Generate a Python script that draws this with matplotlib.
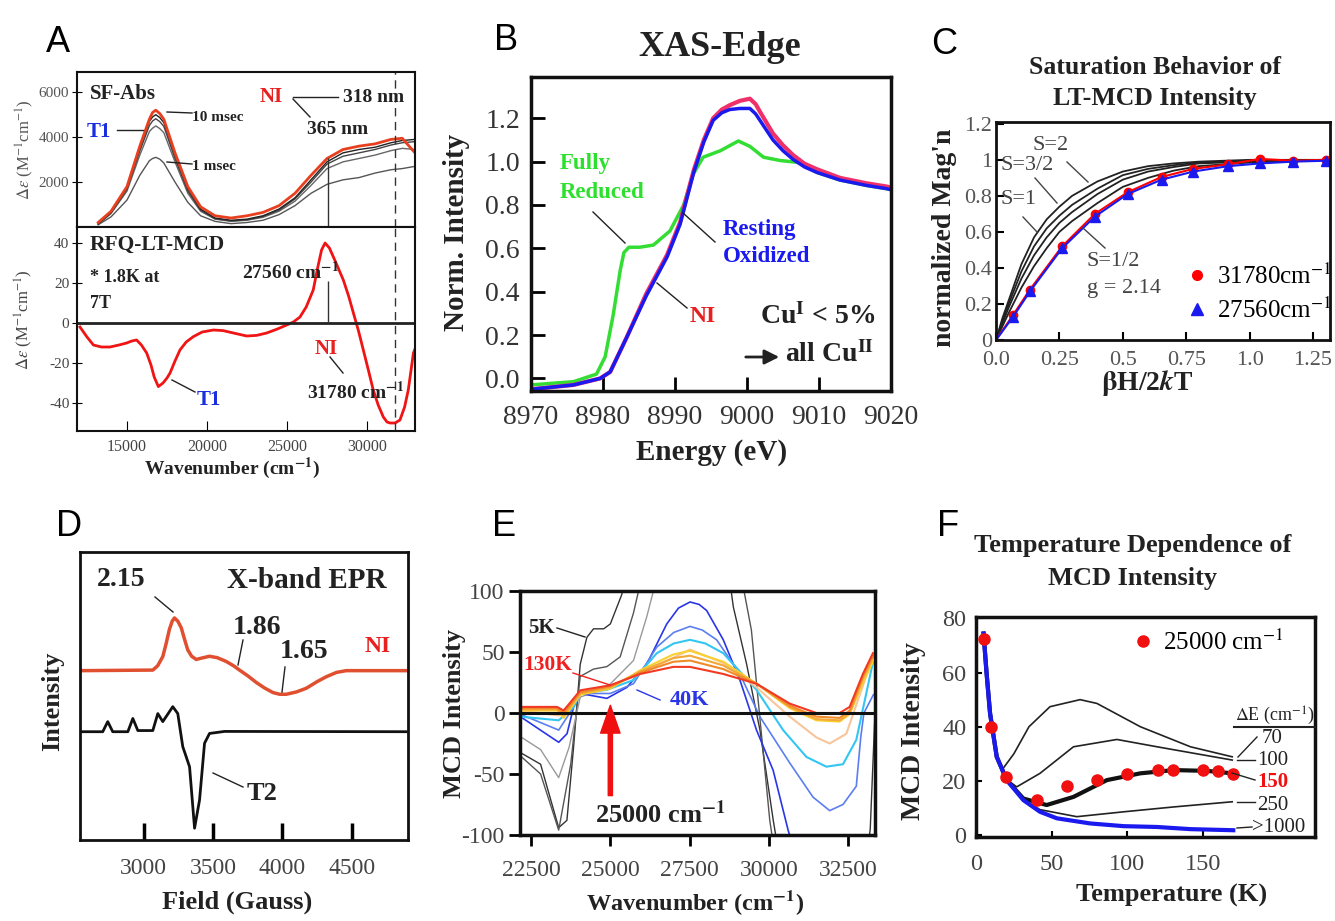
import matplotlib
matplotlib.use('Agg')
import numpy as np
import matplotlib.pyplot as plt
from matplotlib.lines import Line2D

plt.rcParams['font.family'] = ['Liberation Serif', 'DejaVu Serif']
plt.rcParams['mathtext.fontset'] = 'stix'
plt.rcParams['axes.unicode_minus'] = False

# ---------------- data ----------------
# A (top): stopped-flow absorption
abs_x = [13200, 14000, 15000, 15800, 16400, 16600, 16800, 17050, 17300, 18000, 18800, 19600, 20500,
         21500, 22500, 23500, 24500, 25500, 26500, 27500, 28500, 29500, 30500, 31500, 32200, 33000]
abs_nI = [200, 700, 1800, 3600, 4800, 5100, 5200, 5050, 4800, 3300, 1800, 900, 500,
          400, 500, 650, 950, 1500, 2300, 3050, 3450, 3600, 3700, 3900, 3950, 3300]
abs_10ms = [150, 650, 1750, 3500, 4700, 4900, 5000, 4870, 4650, 3200, 1700, 800, 400,
            300, 350, 500, 800, 1300, 2100, 2900, 3300, 3450, 3550, 3750, 3850, 3900]
abs_6ms = [130, 620, 1680, 3380, 4520, 4720, 4820, 4690, 4480, 3050, 1600, 750, 370,
           270, 320, 470, 750, 1250, 2000, 2800, 3150, 3300, 3450, 3650, 3750, 3800]
abs_3ms = [120, 600, 1600, 3200, 4250, 4400, 4500, 4380, 4200, 2900, 1500, 700, 350,
           250, 300, 430, 700, 1150, 1850, 2600, 2900, 3050, 3200, 3400, 3500, 3450]
abs_1ms = [100, 450, 1200, 2300, 2950, 3050, 3100, 3020, 2850, 2000, 1100, 500, 250,
           150, 200, 300, 550, 950, 1500, 1900, 2100, 2200, 2400, 2550, 2600, 2700]

# A (bottom): RFQ LT-MCD
mcd_x = [12060, 12500, 12900, 13400, 13940, 14500, 14980, 15300, 15600, 15900, 16230, 16500,
         16700, 16960, 17250, 17500, 17690, 18000, 18310, 18700, 19150, 19700, 20400, 21000,
         21650, 22480, 23100, 23730, 24400, 24980, 25400, 25810, 26200, 26640, 26900, 27160,
         27380, 27650, 27900, 28200, 28520, 28850, 29150, 29470, 29770, 30100, 30390, 30700,
         31020, 31250, 31440, 31750, 32060, 32350, 32580, 32780, 32900, 33000]
mcd_y = [-2, -7, -11, -12, -12, -11, -10, -9, -8.5, -11, -15, -21,
         -27, -31.8, -30, -27.5, -25, -19, -13.5, -9.5, -6.8, -4.5, -3.5, -3.8,
         -5, -6.5, -6.2, -5, -3, -1, 0.5, 3, 8, 16.5, 27, 36.5,
         40, 37.5, 33, 27.5, 21.5, 13.5, 5, -4, -13.5, -24, -33.5, -41,
         -47, -49.5, -50, -50, -48.5, -42, -33.5, -22, -15, -13]
nI_bands = [27560, 31780]

# B: XAS edge
xas_green_x = [8970, 8975.9, 8979.1, 8980.3, 8981.4, 8982.4, 8982.9, 8983.6, 8985.1, 8987, 8989.3,
               8991.2, 8992.5, 8993.9, 8996.3, 8998.8, 9000.4, 9002.3, 9004.6, 9007.4, 9009.7,
               9012.9, 9016.6, 9019.4]
xas_green_y = [-0.03, -0.015, 0.02, 0.1, 0.29, 0.5, 0.58, 0.605, 0.605, 0.615, 0.68,
               0.8, 0.94, 1.02, 1.05, 1.095, 1.07, 1.02, 1.005, 0.995, 0.95,
               0.915, 0.89, 0.875]
xas_x = [8970, 8975.9, 8979.6, 8981, 8983.3, 8986, 8988.9, 8990.7, 8992.6, 8994, 8995.3,
         8996.5, 8997.6, 8999, 9000.4, 9001.2, 9001.8, 9002.7, 9003.6, 9005, 9006.4, 9008,
         9009.7, 9012.9, 9016.6, 9019.4, 9020]
xas_blue = [-0.05, -0.03, 0.0, 0.03, 0.19, 0.38, 0.56, 0.71, 0.95, 1.09, 1.19,
            1.225, 1.24, 1.245, 1.245, 1.22, 1.19, 1.145, 1.10, 1.05, 1.01, 0.975,
            0.95, 0.915, 0.89, 0.875, 0.87]
xas_red = [-0.05, -0.03, 0.0, 0.03, 0.19, 0.39, 0.57, 0.72, 0.96, 1.10, 1.20,
           1.24, 1.26, 1.28, 1.29, 1.265, 1.23, 1.18, 1.13, 1.075, 1.03, 0.99,
           0.965, 0.925, 0.90, 0.885, 0.88]

# C: saturation magnetisation
sat_x = [0, 0.068, 0.134, 0.261, 0.39, 0.519, 0.653, 0.778, 0.916, 1.041, 1.172, 1.301]
sat_27560 = [0, 0.13, 0.27, 0.51, 0.685, 0.81, 0.89, 0.935, 0.965, 0.98, 0.99, 0.995]
sat_31780 = [0, 0.14, 0.28, 0.52, 0.70, 0.82, 0.905, 0.95, 0.975, 1.005, 0.995, 1.0]
sim_x = [0, 0.025, 0.05, 0.075, 0.1, 0.15, 0.2, 0.25, 0.3, 0.4, 0.5, 0.6, 0.7, 0.8, 1.0, 1.3]
sim_S2 = [0, 0.12, 0.22, 0.32, 0.42, 0.57, 0.67, 0.74, 0.80, 0.88, 0.935, 0.965, 0.98, 0.99, 1.0, 1.0]
sim_S32 = [0, 0.105, 0.20, 0.29, 0.38, 0.52, 0.62, 0.69, 0.75, 0.84, 0.915, 0.95, 0.97, 0.985, 0.995, 1.0]
sim_S1 = [0, 0.09, 0.18, 0.26, 0.34, 0.47, 0.57, 0.65, 0.71, 0.81, 0.89, 0.935, 0.96, 0.98, 0.99, 1.0]
sim_S12 = [0, 0.075, 0.15, 0.22, 0.29, 0.41, 0.51, 0.60, 0.66, 0.76, 0.85, 0.90, 0.94, 0.965, 0.985, 1.0]

# D: X-band EPR (arbitrary offset units)
epr_nI_x = [2548, 3065, 3100, 3137, 3160, 3185, 3205, 3221, 3245, 3270, 3295, 3317, 3345, 3378,
            3420, 3474, 3530, 3594, 3650, 3690, 3750, 3811, 3870, 3931, 3980, 4027, 4100, 4172,
            4250, 4316, 4390, 4460, 4893]
epr_nI_y = [58.8, 59, 60.5, 63.7, 68, 73.2, 76, 77.1, 76, 73.7, 69.5, 66, 63.8, 62.7,
            63.2, 63.8, 63.3, 62, 60.4, 59.0, 57, 54.7, 52.8, 51.2, 50.6, 50.6, 51.4, 52.7,
            55, 56.7, 58.2, 58.8, 58.8]
epr_rest_x = [2548, 2704, 2740, 2776, 2885, 2921, 2957, 3065, 3101, 3137, 3209, 3245, 3281,
              3305, 3330, 3366, 3402, 3438, 3474, 3582, 4893]
epr_rest_y = [37.6, 37.6, 41.1, 37.6, 37.6, 42.2, 38, 38, 43.9, 41.1, 46.3, 43.9, 32.4,
              29, 25.4, 4.1, 13.9, 33.6, 37.0, 37.7, 37.6]

# E: VTVH MCD spectra
hot_x = [22164, 23318, 23528, 24052, 24997, 25941, 26990, 27514, 28563, 29612, 30661, 31500,
         32235, 32550, 32969, 33284]
mcd_130K = [5, 5, 2, 18.6, 22.7, 32, 37.8, 37.8, 32, 24, 7.7, 0, 0, 5, 32, 49]
mcd_110K = [4, 4, 0, 17, 22, 33, 42, 43, 36, 24, 6, -3, -4, 2, 30, 47]
mcd_90K = [3, 3, -2, 16, 21, 34, 45, 47, 39, 24, 5, -5, -6, 0, 28, 45]
mcd_80K = [2, 2, -4, 15, 20, 35, 48, 51, 42, 24, 4, -6, -7, -1, 25, 42]
peach_x = [22164, 23371, 24053, 24892, 25941, 27514, 28563, 29612, 30661, 31500, 31920, 32445, 33284]
mcd_70K = [2, -2, 17, 21, 32, 52, 41, 21, -3, -20, -25, -17, 46]
cyan_x = [22164, 23371, 23843, 24053, 24892, 25731, 26465, 27000, 27514, 28000, 28563, 29612,
          30451, 31185, 31815, 32340, 32760, 33280]
mcd_60K = [-3, -6, 5, 16, 19, 27, 49, 57, 60, 57, 49, 19, -14, -36, -44, -42, -22, 41]
corn_x = [22164, 23371, 23843, 24053, 24997, 25731, 26465, 27000, 27514, 27900, 28353, 29088,
          29717, 30661, 31395, 31920, 32340, 32760, 32900, 33000, 33300]
mcd_50K = [-1, -14, 5, 16, 16, 24, 54, 66, 71, 68, 60, 32, -3, -41, -69, -80, -75, -60, -20, 0, 15]
blue_x = [22164, 22794, 23371, 23633, 23843, 24053, 24892, 25521, 26150, 26780, 27150, 27514,
          27800, 28039, 28563, 29088, 29612, 30137, 30609, 31000]
mcd_40K = [-3, -14, -24, -17, 5, 16, 12, 21, 40, 73, 86, 91, 89, 84, 60, 27, -14, -47, -96, -130]
cold_x = [22200, 22800, 23370, 23630, 23840, 24050, 24260, 24470, 24790, 25000, 25210, 25360,
          25800, 27500, 28500, 28880, 29300, 29720, 30140, 30600, 32000, 33000, 33200, 33350]
mcd_5K = [-33, -42, -94, -88, -28, 40, 62, 69, 69, 73, 87, 97,
          150, 220, 160, 87, 40, -14, -88, -160, -260, -140, -95, 0]
cold2_x = [22200, 22800, 23370, 23750, 24050, 24470, 24890, 25310, 25730, 25890, 26500, 28000,
           29000, 29450, 30030, 30500, 33300]
mcd_10K = [-36, -50, -96, -42, 30, 36, 38, 46, 82, 100, 170, 200, 130, 68, -88, -170, -250]
cold3_x = [22200, 22800, 23370, 23700, 24050, 24890, 25730, 26150, 26360, 27000]
mcd_20K = [-20, -30, -53, -28, 13, 21, 43, 79, 100, 160]

# F: temperature dependence at 25000 cm-1
temp_K = [5, 10, 20, 40, 60, 80, 100, 120, 130, 150, 160, 170]
temp_I = [72.5, 40, 21.5, 13, 18, 20.5, 22.5, 24, 24, 24, 23.5, 22.5]
fit_T = [5, 7, 9.3, 13.7, 20.3, 31.3, 42.3, 53.4, 75.5, 97.6, 119.6, 141.7, 170]
fit_1000 = [74.4, 59.7, 44.9, 28.9, 20.3, 12.9, 8.6, 6.2, 4.3, 3.3, 3.0, 2.2, 1.8]
fit70_T = [5, 7, 9.3, 13.7, 17.1, 25, 35, 48.9, 68.8, 79.9, 108.6, 141.7, 169.3]
fit_70 = [74.4, 59.7, 44.9, 30.1, 24, 30, 40, 47.4, 50, 48.6, 40, 32.6, 28.9]
fit100_T = [5, 7, 9.3, 13.7, 20.3, 26.9, 42.3, 64.4, 93.1, 119.6, 169.3]
fit_100 = [74.4, 59.7, 44.9, 28.9, 20.5, 17.8, 22.8, 32.6, 35.3, 32.6, 27.7]
fit150_T = [5, 7, 9.3, 13.7, 20.3, 31.3, 46.7, 64.4, 86.5, 108.6, 130.7, 152.8, 169.3]
fit_150 = [74.4, 59.7, 44.9, 28.9, 20.3, 13.5, 11.1, 14.1, 20.3, 22.8, 24, 23.7, 22.8]
fit250_T = [5, 7, 9.3, 13.7, 20.3, 31.3, 42.3, 66.6, 97.6, 130.7, 169.3]
fit_250 = [74.4, 59.7, 44.9, 28.9, 20.3, 13, 9.4, 6.8, 8.6, 10.4, 12.3]

# ---------------- figure helpers ----------------
W, H = 1335, 921
fig = plt.figure(figsize=(W / 100, H / 100), dpi=100)
TC = '#333333'


def box(l, t, r, b, lw=2.0):
    ax = fig.add_axes([l / W, 1 - b / H, (r - l) / W, (b - t) / H])
    for s in ax.spines.values():
        s.set_linewidth(lw)
        s.set_color('#111111')
    return ax


def txt(px, py, s, **kw):
    kw.setdefault('va', 'center')
    kw.setdefault('fontweight', 'bold')
    kw.setdefault('color', '#222222')
    fig.text(px / W, 1 - py / H, s, **kw)


def seg(x0, y0, x1, y1, c='#222222', lw=1.0):
    fig.add_artist(Line2D([x0 / W, x1 / W], [1 - y0 / H, 1 - y1 / H], color=c, lw=lw))


def letter(px, py, s):
    fig.text(px / W, 1 - py / H, s, family='Liberation Sans', fontsize=26,
             ha='center', va='center')


# ---------------- A top ----------------
a1 = box(77, 72, 415, 227, lw=1.5)
for yy, c in [(abs_1ms, '#555555'), (abs_3ms, '#666666'), (abs_6ms, '#444444'), (abs_10ms, '#222222')]:
    a1.plot(abs_x, yy, color=c, lw=1.0)
a1.plot(abs_x, abs_nI, color='#e8401f', lw=2.0)
a1.vlines(nI_bands[0], 0, np.interp(nI_bands[0], abs_x, abs_nI), color='#333333', lw=1)
a1.axvline(nI_bands[1], color='#333333', lw=1, ls=(0, (6, 4)))
a1.set_xlim(11875, 33000)
a1.set_ylim(0, 6900)
a1.set_xticks([])
a1.set_yticks([2000, 4000, 6000])
a1.tick_params(axis='y', direction='inout', length=7, labelsize=11, pad=2, labelcolor='#555555')

# ---------------- A bottom ----------------
a2 = box(77, 227, 415, 431, lw=1.5)
a2.plot(mcd_x, mcd_y, color='#f01414', lw=2.0)
a2.axhline(0, color='#222222', lw=2)
a2.vlines(nI_bands[0], 0, 21, color='#333333', lw=1)
a2.axvline(nI_bands[1], color='#333333', lw=1, ls=(0, (6, 4)))
a2.set_xlim(11875, 33000)
a2.set_ylim(-54, 48)
a2.set_yticks([-40, -20, 0, 20, 40])
a2.set_xticks([15000, 20000, 25000, 30000])
a2.tick_params(axis='y', direction='inout', length=7, labelsize=11, pad=2, labelcolor='#444444')
a2.tick_params(axis='x', direction='in', length=7, labelsize=11.5, pad=6, labelcolor='#444444')

txt(25, 150, r'$\Delta\varepsilon$ (M$^{-1}$cm$^{-1}$)', rotation=90, ha='center', fontsize=12,
    fontweight='normal', color='#555555')
txt(24, 320, r'$\Delta\varepsilon$ (M$^{-1}$cm$^{-1}$)', rotation=90, ha='center', fontsize=12,
    fontweight='normal', color='#444444')
txt(232, 468, r'Wavenumber (cm$^{\mathbf{-1}}$)', ha='center', fontsize=14)
txt(90, 94, 'SF-Abs', fontsize=15)
txt(87, 132, 'T1', fontsize=15, color='#1a2ee0')
seg(117, 130, 143, 130)
txt(192, 117, '10 msec', fontsize=11)
seg(167, 112, 192, 113)
txt(192, 166, '1 msec', fontsize=11)
seg(167, 162, 192, 164)
txt(260, 97, 'NI', fontsize=15, color='#e82020')
seg(293, 97, 338, 97)
txt(343, 98, '318 nm', fontsize=14)
seg(293, 99, 310, 117)
txt(307, 129, '365 nm', fontsize=14)
txt(90, 245, 'RFQ-LT-MCD', fontsize=15.5)
txt(90, 278, '* 1.8K at', fontsize=13)
txt(90, 303, '7T', fontsize=13)
txt(242, 272, r'27560 cm$^{\mathbf{-1}}$', fontsize=14)
txt(315, 349, 'NI', fontsize=15, color='#e82020')
seg(330, 357, 343, 373)
txt(307, 392, r'31780 cm$^{\mathbf{-1}}$', fontsize=14)
txt(197, 400, 'T1', fontsize=15, color='#1a2ee0')
seg(172, 380, 195, 392)

# ---------------- B ----------------
b = box(531, 77, 891, 391, lw=2.5)
b.plot(xas_green_x, xas_green_y, color='#33dd33', lw=2.5)
b.plot(xas_x, xas_red, color='#f0306a', lw=3.0)
b.plot(xas_x, xas_blue, color='#1a1aee', lw=2.5)
b.set_xlim(8970, 9020)
b.set_ylim(-0.058, 1.39)
b.set_xticks([8970, 8980, 8990, 9000, 9010, 9020])
b.set_yticks([0, 0.2, 0.4, 0.6, 0.8, 1.0, 1.2])
b.set_yticklabels(['0.0', '0.2', '0.4', '0.6', '0.8', '1.0', '1.2'])
b.tick_params(direction='in', length=10, width=2, labelsize=20, labelcolor=TC)
b.tick_params(axis='x', pad=10)
b.tick_params(axis='y', pad=8)
txt(720, 48, 'XAS-Edge', ha='center', fontsize=26)
txt(456, 232, 'Norm. Intensity', rotation=90, ha='center', fontsize=21)
txt(712, 452, 'Energy (eV)', ha='center', fontsize=21)
txt(560, 163, 'Fully', fontsize=16.5, color='#2ee02e')
txt(560, 193, 'Reduced', fontsize=16.5, color='#2ee02e')
seg(593, 212, 625, 243)
txt(723, 229, 'Resting', fontsize=16.5, color='#1a1aee')
txt(723, 257, 'Oxidized', fontsize=16.5, color='#1a1aee')
seg(683, 213, 715, 242)
txt(690, 317, 'NI', fontsize=17, color='#e82020')
seg(657, 283, 687, 308)
txt(760, 317, r'Cu$^{\mathbf{I}}$ < 5%', fontsize=20)
b.annotate('', xy=(782 / W, 1 - 357 / H), xytext=(743 / W, 1 - 357 / H), xycoords='figure fraction',
           arrowprops=dict(arrowstyle='-|>', color='#222222', lw=2, mutation_scale=22))
txt(785, 355, r'all Cu$^{\mathbf{II}}$', fontsize=20)

# ---------------- C ----------------
c = box(996, 122, 1330, 340, lw=2.0)
for yy in [sim_S2, sim_S32, sim_S1, sim_S12]:
    c.plot(sim_x, yy, color='#222222', lw=1.3)
c.plot(sat_x, sat_31780, color='red', lw=1.5, marker='o', ms=6, markevery=slice(1, None))
c.plot(sat_x, sat_27560, color='#1a1aee', lw=1.5, marker='^', ms=7, markevery=slice(1, None))
c.set_xlim(0, 1.317)
c.set_ylim(0, 1.21)
c.set_xticks([0, 0.25, 0.5, 0.75, 1.0, 1.25])
c.set_xticklabels(['0.0', '0.25', '0.5', '0.75', '1.0', '1.25'])
c.set_yticks([0, 0.2, 0.4, 0.6, 0.8, 1.0, 1.2])
c.set_yticklabels(['0', '0.2', '0.4', '0.6', '0.8', '1', '1.2'])
c.tick_params(direction='in', length=6, width=1.5, labelsize=16, labelcolor='#555555')
c.tick_params(axis='x', pad=8)
c.tick_params(axis='y', pad=3)
c.legend(handles=[Line2D([], [], color='red', marker='o', ls='', ms=7),
                  Line2D([], [], color='#1a1aee', marker='^', ls='', ms=8)],
         labels=[r'31780cm$^{-1}$', r'27560cm$^{-1}$'], loc='center left',
         bbox_to_anchor=(0.572, 0.216), frameon=False, fontsize=18, handlelength=0.8,
         handletextpad=0.4, labelspacing=0.35, borderpad=0, borderaxespad=0)
txt(1155, 68, 'Saturation Behavior of', ha='center', fontsize=18.5)
txt(1155, 99, 'LT-MCD Intensity', ha='center', fontsize=18.5)
txt(945, 238, "normalized Mag'n", rotation=90, ha='center', fontsize=20)
txt(1147, 383, r'$\mathbf{\beta}$H/2$\boldsymbol{k}$T', ha='center', fontsize=20)
for px, py, s in [(1032, 145, 'S=2'), (1000, 165, 'S=3/2'), (1000, 200, 'S=1'),
                  (1087, 261, 'S=1/2'), (1087, 289, 'g = 2.14')]:
    txt(px, py, s, fontsize=16, fontweight='normal', color='#444444')
seg(1067, 162, 1088, 182, c='#444444')
seg(1035, 178, 1057, 203, c='#444444')
seg(1023, 217, 1037, 232, c='#444444')
seg(1083, 228, 1105, 248, c='#444444')

# ---------------- D ----------------
d = box(80, 552, 408, 840, lw=2.0)
d.plot(epr_nI_x, epr_nI_y, color='#e05030', lw=2.5)
d.plot(epr_rest_x, epr_rest_y, color='#111111', lw=2.0)
d.set_xlim(2540, 4905)
d.set_ylim(0, 100)
d.set_yticks([])
d.set_xticks([3000, 3500, 4000, 4500])
d.tick_params(axis='x', direction='in', length=12, width=2.5, labelsize=17, pad=13, labelcolor='#444444')
txt(53, 701, 'Intensity', rotation=90, ha='center', fontsize=19)
txt(237, 902, 'Field (Gauss)', ha='center', fontsize=19)
txt(227, 580, 'X-band EPR', fontsize=21)
txt(97, 580, '2.15', fontsize=20)
seg(155, 597, 173, 612)
txt(233, 627, '1.86', fontsize=20)
seg(243, 640, 238, 665)
txt(280, 652, '1.65', fontsize=20)
seg(285, 667, 282, 692)
txt(365, 646, 'NI', fontsize=17, color='#e82020')
txt(247, 793, 'T2', fontsize=19)
seg(213, 773, 243, 787)

# ---------------- E ----------------
e = box(520, 591, 875, 835, lw=2.5)
e.plot(cold_x, mcd_5K, color='#333333', lw=1.0)
e.plot(cold2_x, mcd_10K, color='#555555', lw=1.0)
e.plot(cold3_x, mcd_20K, color='#999999', lw=1.0)
e.plot(blue_x, mcd_40K, color='#2a36e6', lw=1.2)
e.plot(corn_x, mcd_50K, color='#5b7ef0', lw=1.2)
e.plot(cyan_x, mcd_60K, color='#33c6f2', lw=1.5)
e.plot(peach_x, mcd_70K, color='#f8c49a', lw=1.5)
for yy, col in [(mcd_80K, '#f8d030'), (mcd_90K, '#f4a838'), (mcd_110K, '#f08a28'), (mcd_130K, '#f03a24')]:
    e.plot(hot_x, yy, color=col, lw=1.5)
e.axhline(0, color='#111111', lw=2.2)
e.annotate('', xy=(25000, 6.3), xytext=(25000, -67.7),
           arrowprops=dict(width=3, headwidth=14, headlength=20, color='#f01010'))
e.set_xlim(22150, 33350)
e.set_ylim(-100, 100)
e.set_xticks([22500, 25000, 27500, 30000, 32500])
e.set_yticks([-100, -50, 0, 50, 100])
e.tick_params(direction='out', length=8, width=2, labelsize=17, labelcolor='#444444')
e.tick_params(axis='x', pad=10)
e.tick_params(axis='y', pad=3)
txt(455, 713, 'MCD Intensity', rotation=90, ha='center', fontsize=19)
txt(695, 903, r'Wavenumber (cm$^{\mathbf{-1}}$)', ha='center', fontsize=17.5)
txt(528, 628, '5K', fontsize=15)
seg(557, 628, 585, 637)
txt(523, 665, '130K', fontsize=15.5, color='#f02020')
seg(573, 673, 610, 685, c='#f02020')
txt(670, 700, '40K', fontsize=16, color='#2a36e6')
seg(637, 690, 660, 700, c='#2a36e6')
txt(595, 814, r'25000 cm$^{\mathbf{-1}}$', fontsize=19)

# ---------------- F ----------------
f = box(976, 617, 1315, 837, lw=2.5)
f.plot(fit70_T, fit_70, color='#222222', lw=1.2)
f.plot(fit100_T, fit_100, color='#222222', lw=1.2)
f.plot(fit250_T, fit_250, color='#222222', lw=1.2)
f.plot(fit150_T, fit_150, color='#111111', lw=3.0)
f.plot(fit_T, fit_1000, color='#1a1aee', lw=3.0)
f.plot(temp_K, temp_I, 'o', color='#f01010', ms=8, zorder=5)
f.set_xlim(0, 224)
f.set_ylim(-0.7, 80.5)
f.set_xticks([0, 50, 100, 150])
f.set_yticks([0, 20, 40, 60, 80])
f.tick_params(direction='in', length=4, width=1.5, labelsize=17.5, labelcolor='#444444')
f.tick_params(axis='x', pad=12)
f.tick_params(axis='y', pad=7)
f.legend(handles=[Line2D([], [], color='#f01010', marker='o', ls='', ms=8)],
         labels=[r'25000 cm$^{-1}$'], loc='center left', bbox_to_anchor=(0.463, 0.886),
         frameon=False, fontsize=18, handlelength=0.8, handletextpad=0.4, borderpad=0,
         borderaxespad=0)
txt(1133, 545, 'Temperature Dependence of', ha='center', fontsize=19)
txt(1133, 578, 'MCD Intensity', ha='center', fontsize=19)
txt(913, 731, 'MCD Intensity', rotation=90, ha='center', fontsize=20)
txt(1172, 895, 'Temperature (K)', ha='center', fontsize=19)
txt(1235, 716, r'$\Delta$E (cm$^{-1}$)', fontsize=13, fontweight='normal')
seg(1234, 727, 1315, 727, lw=1.5)
txt(1262, 738, '70', fontsize=15, fontweight='normal')
seg(1238, 757, 1257, 737)
txt(1257, 760, '100', fontsize=15, fontweight='normal')
seg(1237, 760, 1255, 760)
txt(1257, 782, '150', fontsize=15, fontweight='bold', color='#f01010')
seg(1232, 773, 1255, 780)
txt(1257, 805, '250', fontsize=15, fontweight='normal')
seg(1237, 802, 1255, 802)
txt(1252, 827, '>1000', fontsize=15, fontweight='normal')
seg(1237, 828, 1252, 827)

# panel letters
letter(58, 42, 'A')
letter(506, 40, 'B')
letter(944, 45, 'C')
letter(69, 526, 'D')
letter(504, 526, 'E')
letter(948, 526, 'F')

fig.savefig('out.png', dpi=100)
